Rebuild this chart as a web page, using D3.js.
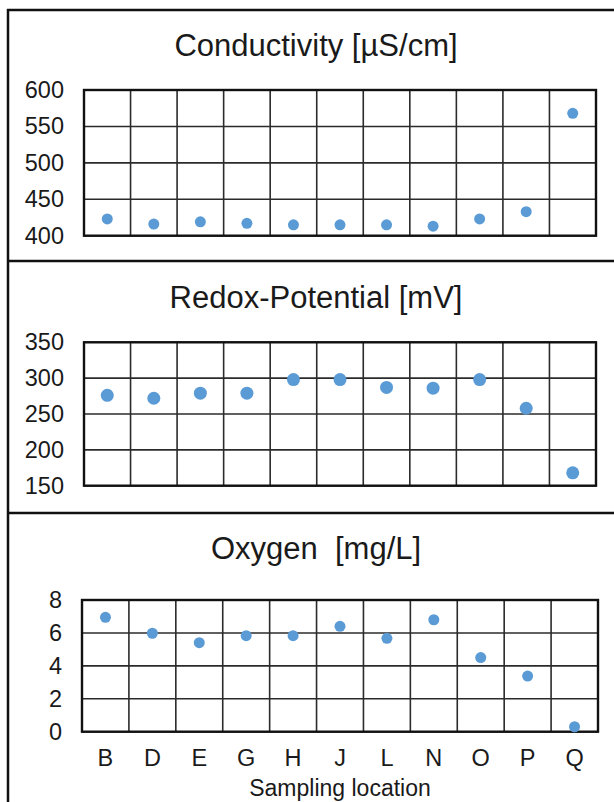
<!DOCTYPE html>
<html><head><meta charset="utf-8">
<script src="https://cdn.jsdelivr.net/npm/d3@7"></script>
<style>
html,body{margin:0;padding:0;background:#fff;}
svg{display:block;font-family:"Liberation Sans",Arial,sans-serif;}
</style></head>
<body>
<svg id="c" width="614" height="802"></svg>
<script>
const categories = ["B","D","E","G","H","J","L","N","O","P","Q"];
const conductivity = [423, 416, 419, 417, 415, 415, 415, 413, 423, 433, 568];
const redox = [276, 272, 279, 279, 298, 298, 287, 286, 298, 258, 168];
const oxygen = [6.95, 5.98, 5.41, 5.83, 5.83, 6.4, 5.67, 6.8, 4.5, 3.38, 0.3];
const condTicks = [400, 450, 500, 550, 600];
const redoxTicks = [150, 200, 250, 300, 350];
const oxyTicks = [0, 2, 4, 6, 8];
const titles = ["Conductivity [µS/cm]", "Redox-Potential [mV]", "Oxygen  [mg/L]"];
const xTitle = "Sampling location";

const svg = d3.select("#c");
const dotColor = "#5B9BD5";

// panel frames
svg.append("line").attr("x1",8).attr("x2",8).attr("y1",9).attr("y2",802).attr("stroke","#111").attr("stroke-width",2.5);
[10, 261, 513].forEach(y=>{
  svg.append("line").attr("x1",7).attr("x2",614).attr("y1",y).attr("y2",y).attr("stroke","#111").attr("stroke-width",2.5);
});

const panels = [
  {data: conductivity, ticks: condTicks, domain:[400,600], left:84, right:596, top:90, bottom:235.7, titleY:56, r:5.5},
  {data: redox, ticks: redoxTicks, domain:[150,350], left:84, right:596, top:342.3, bottom:485.7, titleY:308, r:6.5},
  {data: oxygen, ticks: oxyTicks, domain:[0,8], left:82, right:598, top:600, bottom:731.7, titleY:559, r:5.5, xaxis:true}
];

panels.forEach((p,i)=>{
  const g = svg.append("g");
  const x = d3.scaleBand().domain(categories).range([p.left,p.right]).paddingInner(0).paddingOuter(0);
  const y = d3.scaleLinear().domain(p.domain).range([p.bottom,p.top]);

  // title
  g.append("text").attr("x",316).attr("y",p.titleY).attr("text-anchor","middle")
    .attr("font-size",31).attr("fill","#1a1a1a").style("white-space","pre").text(titles[i]);

  // horizontal grid
  g.selectAll(".hg").data(p.ticks).join("line")
    .attr("x1",p.left).attr("x2",p.right)
    .attr("y1",d=>y(d)).attr("y2",d=>y(d))
    .attr("stroke","#2b2b2b").attr("stroke-width",1.6);
  // vertical grid
  g.selectAll(".vg").data(categories.slice(1)).join("line")
    .attr("x1",d=>x(d)).attr("x2",d=>x(d))
    .attr("y1",p.top).attr("y2",p.bottom)
    .attr("stroke","#2b2b2b").attr("stroke-width",1.6);
  // outline
  g.append("rect").attr("x",p.left).attr("y",p.top).attr("width",p.right-p.left).attr("height",p.bottom-p.top)
    .attr("fill","none").attr("stroke","#111").attr("stroke-width",2.4);

  // y axis labels
  const yAxis = d3.axisLeft(y).tickValues(p.ticks).tickSize(0).tickPadding(20);
  const ya = g.append("g").attr("transform",`translate(${p.left},0)`).call(yAxis);
  ya.select(".domain").remove();
  ya.selectAll("text").attr("font-size",23.5).attr("fill","#1a1a1a").attr("font-family","'Liberation Sans',Arial,sans-serif");

  // dots
  g.selectAll("circle").data(p.data).join("circle")
    .attr("cx",(d,j)=>x(categories[j])+x.bandwidth()/2)
    .attr("cy",d=>y(d)).attr("r",p.r).attr("fill",dotColor);

  if(p.xaxis){
    const xAxis = d3.axisBottom(x).tickSize(0).tickPadding(18);
    const xa = g.append("g").attr("transform",`translate(0,${p.bottom})`).call(xAxis);
    xa.select(".domain").remove();
    xa.selectAll("text").attr("font-size",23.5).attr("fill","#1a1a1a").attr("font-family","'Liberation Sans',Arial,sans-serif");
    g.append("text").attr("x",(p.left+p.right)/2).attr("y",796).attr("text-anchor","middle")
      .attr("font-size",23).attr("fill","#1a1a1a").text(xTitle);
  }
});
</script>
</body></html>
